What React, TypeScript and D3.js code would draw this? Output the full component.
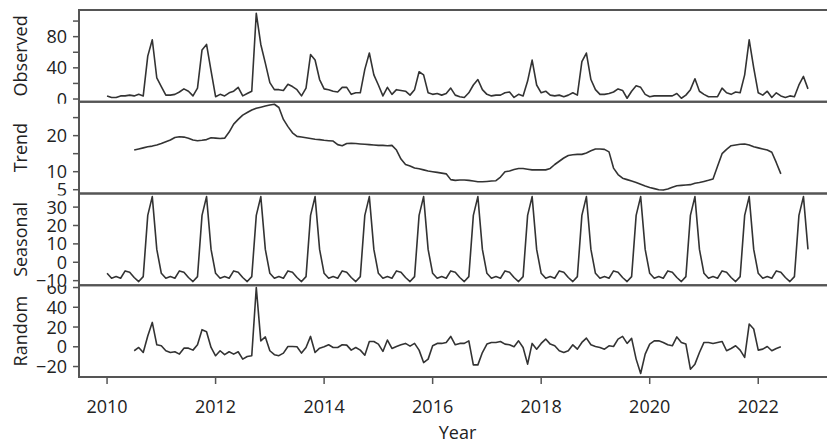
import React, { useRef, useEffect } from "react";
import * as d3 from "d3";

// monthly series, Jan 2010 .. Dec 2022
const startYear = 2010;

const observed = [
  4, 2, 2, 4, 4, 5, 4, 6, 4, 55, 76, 27,
  16, 5, 5, 6, 9, 13, 10, 4, 14, 63, 70, 36,
  3, 6, 4, 8, 10, 15, 4, 7, 10, 110, 70, 46,
  21, 12, 12, 11, 19, 16, 12, 4, 14, 57, 50, 25,
  13, 12, 10, 9, 15, 15, 6, 8, 8, 38, 59, 31,
  18, 4, 15, 6, 12, 11, 10, 5, 12, 35, 31, 8,
  6, 7, 5, 7, 14, 5, 3, 2, 8, 18, 25, 12,
  6, 4, 5, 5, 8, 9, 2, 6, 4, 23, 50, 18,
  8, 10, 5, 4, 5, 3, 5, 8, 5, 48, 59, 25,
  12, 6, 6, 7, 9, 13, 11, 1, 10, 17, 15, 6,
  3, 4, 4, 4, 4, 4, 7, 1, 5, 12, 26, 10,
  6, 3, 3, 3, 14, 8, 6, 9, 8, 31, 76, 40,
  8, 5, 10, 2, 8, 4, 2, 4, 3, 18, 29, 13,
];

// trend and random start in Jul 2010 (month index 6), end Jun 2022
const trendStart = 6;
const trend = [
  16.0, 16.3, 16.6, 16.9, 17.1, 17.4, 17.8, 18.3, 18.8, 19.5, 19.7, 19.6,
  19.3, 18.8, 18.6, 18.7, 18.9, 19.4, 19.3, 19.2, 19.3, 21.0, 23.2, 24.5,
  25.7, 26.4, 27.1, 27.6, 27.9, 28.2, 28.5, 28.7, 27.8, 24.5, 22.5, 20.8,
  19.8, 19.6, 19.4, 19.2, 19.0, 18.9, 18.7, 18.6, 18.5, 17.5, 17.2, 17.8,
  17.9, 17.8, 17.7, 17.6, 17.5, 17.4, 17.3, 17.3, 17.2, 17.3, 16.0, 13.5,
  12.0, 11.6, 11.0, 10.8, 10.5, 10.2, 10.0, 9.8, 9.6, 9.4, 7.8, 7.6,
  7.7, 7.7, 7.6, 7.4, 7.2, 7.2, 7.3, 7.4, 7.5, 8.5, 10.0, 10.2,
  10.6, 10.9, 10.9, 10.7, 10.5, 10.5, 10.5, 10.5, 10.9, 12.0, 12.9, 13.8,
  14.5, 14.7, 14.8, 14.8, 15.2, 15.8, 16.3, 16.3, 16.2, 15.5, 11.0, 9.2,
  8.2, 7.8, 7.4, 7.0, 6.5, 6.0, 5.6, 5.3, 5.0, 4.9, 5.2, 5.7,
  6.1, 6.2, 6.3, 6.4, 6.8, 7.0, 7.3, 7.6, 8.0, 11.5, 15.0, 16.2,
  17.2, 17.4, 17.6, 17.7, 17.4, 16.9, 16.6, 16.3, 16.0, 15.4, 12.5, 9.4,
];

// seasonal figure, Jan..Dec (same every year)
const seasonalMonths = [-6.0, -8.7, -7.8, -8.7, -4.7, -5.4, -8.3, -10.5, -7.8, 25.5, 35.7, 7.0];

const random = [
  -4, -0.7, -5.8, 11, 24.7, 2, 1, -4, -5.8, -5, -7.4, -1.4,
  -1.4, -3.4, 2, 17.3, 15.2, -0.7, -9.1, -4, -8, -5, -7.4, -5,
  -12.5, -9.8, -9.1, 60, 6, 10, -4, -8, -9, -6.4, 0.3, 0.3,
  0, -6.4, -0.7, 10.5, -5.8, -1.4, 0, 2, -0.7, -0.7, 2, 1.7,
  -3.4, -0.7, -3.4, -8.5, 5.4, 5.4, 2.7, -4.7, 6.8, -1.7, 0.3, 2,
  3.4, 0.7, 3.4, -3.4, -16, -12.5, 1, 3.4, 3.4, 4.4, 10.5, 2,
  3.4, 3.4, 6, -18.3, -18.3, -5.8, 2.7, 4.4, 4.4, 5.4, 2.7, 2,
  0, 6, -0.7, -17.6, 3.4, -2.4, 3.4, 7.8, 2.7, 1, -4, -5.8,
  -4, 2, -2.4, 4.4, 8.8, 2, 0.3, -0.7, -2.4, 1, 0.3, 7.8,
  10.5, 3.4, 8.5, -12.5, -27, -7.4, 2.7, 6, 6, 4.4, 2, 1,
  10, 4.4, 2.7, -22.7, -17.6, -5.8, 4.4, 4.4, 3.4, 4.4, 5.4, -4,
  -1.7, 1, -3.4, -10.8, 23, 18, -3.4, -2.4, 0.3, -4, -1.7, 0,
];

const xTicks = [2010, 2012, 2014, 2016, 2018, 2020, 2022];

const panels = [
  { name: "Observed", values: observed, start: 0, domain: [-3.5, 114.2], ticks: [0, 20, 40, 60, 80, 100], labels: [0, 40, 80] },
  { name: "Trend", values: trend, start: trendStart, domain: [3.95, 29.4], ticks: [5, 10, 15, 20, 25], labels: [5, 10, 20] },
  { name: "Seasonal", values: observed.map((_, i) => seasonalMonths[i % 12]), start: 0, domain: [-12.5, 37.4], ticks: [-10, 0, 10, 20, 30], labels: [-10, 0, 10, 20, 30] },
  { name: "Random", values: random, start: trendStart, domain: [-30.6, 62.3], ticks: [-20, 0, 20, 40, 60], labels: [-20, 0, 20, 40, 60] },
];

const W = 827;
const H = 444;
const left = 79;
const right = 836;
const top = 10;
const panelH = 91.75;

const App = () => {
  const svgRef = useRef(null);

  useEffect(() => {
    const svg = d3.select(svgRef.current);
    svg.selectAll("*").remove();

    const x = d3.scaleLinear().domain([2009.483, 2023.433]).range([left, right]);
    const fmt = (v) => (v < 0 ? "\u2212" + Math.abs(v) : String(v));
    const font = "'Open Sans', sans-serif";

    panels.forEach((p, k) => {
      const y0 = top + k * panelH;
      const y = d3.scaleLinear().domain(p.domain).range([y0 + panelH, y0]);
      const g = svg.append("g");

      // tick labels are clipped to their own panel band
      const pad = k === 0 ? 10 : 0;
      svg.append("clipPath")
        .attr("id", "clip" + k)
        .append("rect")
        .attr("x", 0).attr("y", y0 - pad).attr("width", left).attr("height", panelH + 2 + pad);

      const line = d3.line()
        .x((d, i) => x(startYear + (p.start + i) / 12))
        .y(d => y(d));

      g.append("path")
        .datum(p.values)
        .attr("d", line)
        .attr("fill", "none")
        .attr("stroke", "#333")
        .attr("stroke-width", 1.6)
        .attr("stroke-linejoin", "round");

      g.append("rect")
        .attr("x", left).attr("y", y0)
        .attr("width", right - left).attr("height", panelH)
        .attr("fill", "none")
        .attr("stroke", "#555")
        .attr("stroke-width", 2);

      g.selectAll(".tk")
        .data(p.ticks)
        .enter()
        .append("line")
        .attr("x1", left - 6).attr("x2", left)
        .attr("y1", d => y(d)).attr("y2", d => y(d))
        .attr("stroke", "#555")
        .attr("stroke-width", 1.5);

      g.append("g")
        .attr("clip-path", `url(#clip${k})`)
        .selectAll("text")
        .data(p.labels)
        .enter()
        .append("text")
        .attr("x", left - 12)
        .attr("y", d => y(d))
        .attr("dy", "0.36em")
        .attr("text-anchor", "end")
        .style("font-family", font)
        .style("font-size", "18px")
        .style("fill", "#222")
        .text(d => fmt(d));

      g.append("text")
        .attr("transform", `translate(27, ${y0 + panelH / 2}) rotate(-90)`)
        .attr("text-anchor", "middle")
        .style("font-family", font)
        .style("font-size", "18px")
        .style("fill", "#222")
        .text(p.name);
    });

    // x axis under the last panel
    const bottom = top + 4 * panelH;
    const ax = svg.append("g");
    ax.selectAll("line")
      .data(xTicks)
      .enter()
      .append("line")
      .attr("x1", d => x(d)).attr("x2", d => x(d))
      .attr("y1", bottom).attr("y2", bottom + 7)
      .attr("stroke", "#555")
      .attr("stroke-width", 1.5);
    ax.selectAll("text")
      .data(xTicks)
      .enter()
      .append("text")
      .attr("x", d => x(d))
      .attr("y", 412.5)
      .attr("text-anchor", "middle")
      .style("font-family", font)
      .style("font-size", "18px")
      .style("fill", "#222")
      .text(d => d);

    svg.append("text")
      .attr("x", (left + right) / 2)
      .attr("y", 438.5)
      .attr("text-anchor", "middle")
      .style("font-family", font)
      .style("font-size", "18px")
      .style("fill", "#222")
      .text("Year");
  }, []);

  return (
    <div style={{ position: "absolute", left: 0, top: 0 }}>
      <svg ref={svgRef} width={W} height={H} style={{ display: "block", background: "#fff" }}></svg>
    </div>
  );
};

export default App;
